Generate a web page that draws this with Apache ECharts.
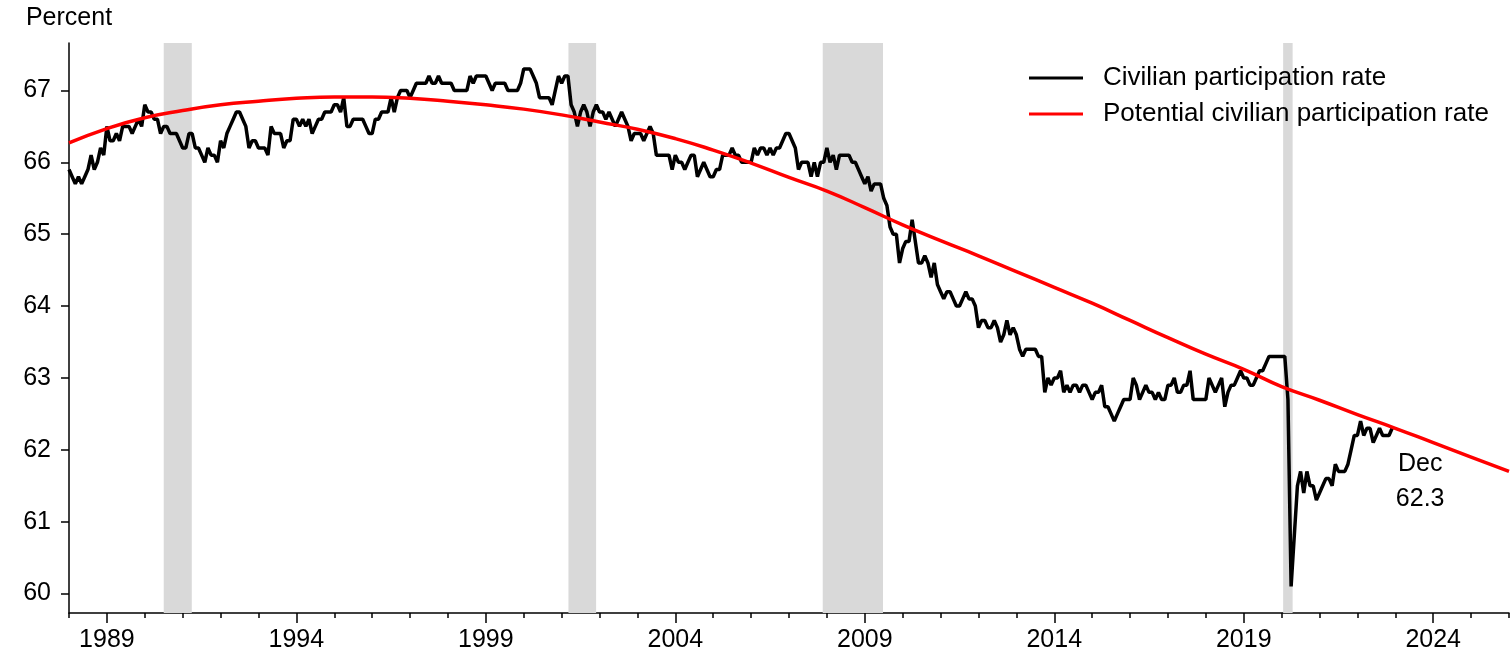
<!DOCTYPE html>
<html>
<head>
<meta charset="utf-8">
<script src="https://cdn.jsdelivr.net/npm/echarts@6/dist/echarts.min.js"></script>
<style>
  html, body { margin: 0; padding: 0; background: #fff; }
  #chart { width: 1512px; height: 653px; }
</style>
</head>
<body>
<div id="chart"></div>
<script>
// monthly civilian participation rate, Jan 1988 .. Dec 2022
const startYear = 1988
const civilianRate = [
  65.9, 65.8, 65.7, 65.8, 65.7, 65.8, 65.9, 66.1, 65.9, 66.0, 66.2, 66.1, // 1988
  66.5, 66.3, 66.3, 66.4, 66.3, 66.5, 66.5, 66.5, 66.4, 66.5, 66.6, 66.5, // 1989
  66.8, 66.7, 66.7, 66.6, 66.6, 66.4, 66.5, 66.5, 66.4, 66.4, 66.4, 66.3, // 1990
  66.2, 66.2, 66.4, 66.4, 66.2, 66.2, 66.1, 66.0, 66.2, 66.1, 66.1, 66.0, // 1991
  66.3, 66.2, 66.4, 66.5, 66.6, 66.7, 66.7, 66.6, 66.5, 66.2, 66.3, 66.3, // 1992
  66.2, 66.2, 66.2, 66.1, 66.5, 66.4, 66.4, 66.4, 66.2, 66.3, 66.3, 66.6, // 1993
  66.6, 66.5, 66.6, 66.5, 66.6, 66.4, 66.5, 66.6, 66.6, 66.7, 66.7, 66.7, // 1994
  66.8, 66.8, 66.7, 66.9, 66.5, 66.5, 66.6, 66.6, 66.6, 66.6, 66.5, 66.4, // 1995
  66.4, 66.6, 66.6, 66.7, 66.7, 66.7, 66.9, 66.7, 66.9, 67.0, 67.0, 67.0, // 1996
  66.9, 67.0, 67.1, 67.1, 67.1, 67.1, 67.2, 67.1, 67.1, 67.2, 67.1, 67.1, // 1997
  67.1, 67.1, 67.0, 67.0, 67.0, 67.0, 67.0, 67.2, 67.1, 67.2, 67.2, 67.2, // 1998
  67.2, 67.1, 67.0, 67.1, 67.1, 67.1, 67.1, 67.0, 67.0, 67.0, 67.0, 67.1, // 1999
  67.3, 67.3, 67.3, 67.2, 67.1, 66.9, 66.9, 66.9, 66.9, 66.8, 67.0, 67.2, // 2000
  67.1, 67.2, 67.2, 66.8, 66.7, 66.5, 66.7, 66.8, 66.7, 66.5, 66.7, 66.8, // 2001
  66.7, 66.7, 66.6, 66.7, 66.6, 66.5, 66.6, 66.7, 66.6, 66.5, 66.3, 66.4, // 2002
  66.4, 66.4, 66.3, 66.4, 66.5, 66.4, 66.1, 66.1, 66.1, 66.1, 66.1, 65.9, // 2003
  66.1, 66.0, 66.0, 65.9, 66.0, 66.1, 66.1, 65.8, 65.9, 66.0, 65.9, 65.8, // 2004
  65.8, 65.9, 65.9, 66.1, 66.1, 66.1, 66.2, 66.1, 66.1, 66.0, 66.0, 66.0, // 2005
  66.0, 66.2, 66.1, 66.2, 66.2, 66.1, 66.2, 66.1, 66.2, 66.2, 66.3, 66.4, // 2006
  66.4, 66.3, 66.2, 65.9, 66.0, 66.0, 66.0, 65.8, 66.0, 65.8, 66.0, 66.0, // 2007
  66.2, 66.0, 66.1, 65.9, 66.1, 66.1, 66.1, 66.1, 66.0, 66.0, 65.9, 65.8, // 2008
  65.7, 65.8, 65.6, 65.7, 65.7, 65.7, 65.5, 65.4, 65.1, 65.0, 65.0, 64.6, // 2009
  64.8, 64.9, 64.9, 65.2, 64.9, 64.6, 64.6, 64.7, 64.6, 64.4, 64.6, 64.3, // 2010
  64.2, 64.1, 64.2, 64.2, 64.1, 64.0, 64.0, 64.1, 64.2, 64.1, 64.1, 64.0, // 2011
  63.7, 63.8, 63.8, 63.7, 63.7, 63.8, 63.7, 63.5, 63.6, 63.8, 63.6, 63.7, // 2012
  63.6, 63.4, 63.3, 63.4, 63.4, 63.4, 63.4, 63.3, 63.3, 62.8, 63.0, 62.9, // 2013
  63.0, 63.0, 63.1, 62.8, 62.9, 62.8, 62.9, 62.9, 62.8, 62.9, 62.9, 62.8, // 2014
  62.7, 62.8, 62.8, 62.9, 62.6, 62.6, 62.5, 62.4, 62.5, 62.6, 62.7, 62.7, // 2015
  62.7, 63.0, 62.9, 62.7, 62.8, 62.9, 62.8, 62.8, 62.7, 62.8, 62.7, 62.7, // 2016
  62.9, 62.9, 63.0, 62.8, 62.8, 62.9, 62.9, 63.1, 62.7, 62.7, 62.7, 62.7, // 2017
  62.7, 63.0, 62.9, 62.8, 62.9, 63.0, 62.6, 62.8, 62.9, 62.9, 63.0, 63.1, // 2018
  63.0, 63.0, 62.9, 62.9, 63.0, 63.1, 63.1, 63.2, 63.3, 63.3, 63.3, 63.3, // 2019
  63.3, 63.3, 62.7, 60.1, 60.8, 61.5, 61.7, 61.4, 61.7, 61.5, 61.5, 61.3, // 2020
  61.4, 61.5, 61.6, 61.6, 61.5, 61.8, 61.7, 61.7, 61.7, 61.8, 62.0, 62.2, // 2021
  62.2, 62.4, 62.2, 62.3, 62.3, 62.1, 62.2, 62.3, 62.2, 62.2, 62.2, 62.3  // 2022
]
// potential rate, read at each January
const potentialYears = [1988, 1989, 1990, 1991, 1992, 1993, 1994, 1995, 1996, 1997, 1998, 1999, 2000,
  2001, 2002, 2003, 2004, 2005, 2006, 2007, 2008, 2009, 2010, 2011, 2012, 2013,
  2014, 2015, 2016, 2017, 2018, 2019, 2020, 2021, 2022, 2023, 2024, 2025, 2026]
const potentialRate = [66.27, 66.47, 66.62, 66.72, 66.80, 66.85, 66.89, 66.91, 66.91, 66.89, 66.85, 66.80, 66.74,
  66.66, 66.56, 66.46, 66.33, 66.17, 65.99, 65.79, 65.60, 65.37, 65.13, 64.91, 64.70, 64.48,
  64.26, 64.04, 63.80, 63.56, 63.33, 63.12, 62.88, 62.69, 62.49, 62.30, 62.10, 61.90, 61.70]
// recessions (decimal years)
const recessions = [[1990.5, 1991.24], [2001.18, 2001.91], [2007.89, 2009.48], [2020.04, 2020.29]]
const labelYears = [1989, 1994, 1999, 2004, 2009, 2014, 2019, 2024]
const yTicks = [60, 61, 62, 63, 64, 65, 66, 67]

const allYears = []
for (let y = 1988; y <= 2026; y++) allYears.push(y)

const civData = civilianRate.map((v, i) => [startYear + i / 12, v])
const potData = potentialYears.map((y, i) => [y, potentialRate[i]])
const lastPoint = civData[civData.length - 1]

const font = 'Arial, "Liberation Sans", sans-serif'
const chart = echarts.init(document.getElementById('chart'))
const option = {
  animation: false,
  textStyle: { fontFamily: font },
  grid: { left: 69, right: 3, top: 43, bottom: 40, outerBoundsMode: 'none' },
  legend: {
    orient: 'vertical',
    left: 1024,
    top: 60,
    itemWidth: 54,
    itemHeight: 3,
    itemGap: 10,
    icon: 'rect',
    textStyle: { fontSize: 26, color: '#000', fontFamily: font, padding: [0, 0, 0, 15] },
    data: ['Civilian participation rate', 'Potential civilian participation rate']
  },
  xAxis: [
    {
      type: 'value',
      min: 1988,
      max: 2026,
      axisLine: { show: true, onZero: false, lineStyle: { color: '#000', width: 1.5 } },
      axisTick: { show: true, customValues: allYears, length: 5, lineStyle: { color: '#000', width: 1.5 } },
      axisLabel: {
        customValues: labelYears,
        margin: 15,
        fontSize: 25,
        color: '#000',
        fontFamily: font,
        formatter: (v) => String(v)
      },
      splitLine: { show: false }
    },
    {
      type: 'value',
      min: 1988,
      max: 2026,
      position: 'bottom',
      axisLine: { show: false, onZero: false },
      axisTick: { show: true, customValues: labelYears, length: 10, lineStyle: { color: '#000', width: 1.5 } },
      axisLabel: { show: false },
      splitLine: { show: false }
    }
  ],
  yAxis: {
    type: 'value',
    min: 59.73,
    max: 67.66,
    name: 'Percent',
    nameLocation: 'end',
    nameGap: 12,
    nameTextStyle: { fontSize: 25, color: '#000', fontFamily: font },
    axisLine: { show: true, lineStyle: { color: '#000', width: 1.5 } },
    axisTick: { show: true, customValues: yTicks, length: 8, lineStyle: { color: '#000', width: 1.5 } },
    axisLabel: { customValues: yTicks, margin: 18, fontSize: 25, color: '#000', fontFamily: font },
    splitLine: { show: false }
  },
  series: [
    {
      // recession shading
      type: 'line',
      data: [],
      z: 1,
      silent: true,
      markArea: {
        silent: true,
        itemStyle: { color: '#d9d9d9' },
        data: recessions.map((r) => [{ xAxis: r[0] }, { xAxis: r[1] }])
      }
    },
    {
      name: 'Civilian participation rate',
      type: 'line',
      data: civData,
      z: 3,
      showSymbol: false,
      symbol: 'none',
      color: '#000',
      lineStyle: { color: '#000', width: 3.5 },
      markPoint: {
        symbol: 'circle',
        symbolSize: 0,
        data: [{ coord: lastPoint, value: lastPoint[1] }],
        label: {
          show: true,
          offset: [28, 53],
          fontSize: 25,
          lineHeight: 35,
          color: '#000',
          fontFamily: font,
          formatter: (p) => 'Dec\n' + p.value.toFixed(1)
        }
      }
    },
    {
      name: 'Potential civilian participation rate',
      type: 'line',
      data: potData,
      z: 4,
      smooth: true,
      showSymbol: false,
      symbol: 'none',
      color: '#ff0000',
      lineStyle: { color: '#ff0000', width: 3.5 }
    }
  ]
}
chart.setOption(option)
</script>
</body>
</html>
